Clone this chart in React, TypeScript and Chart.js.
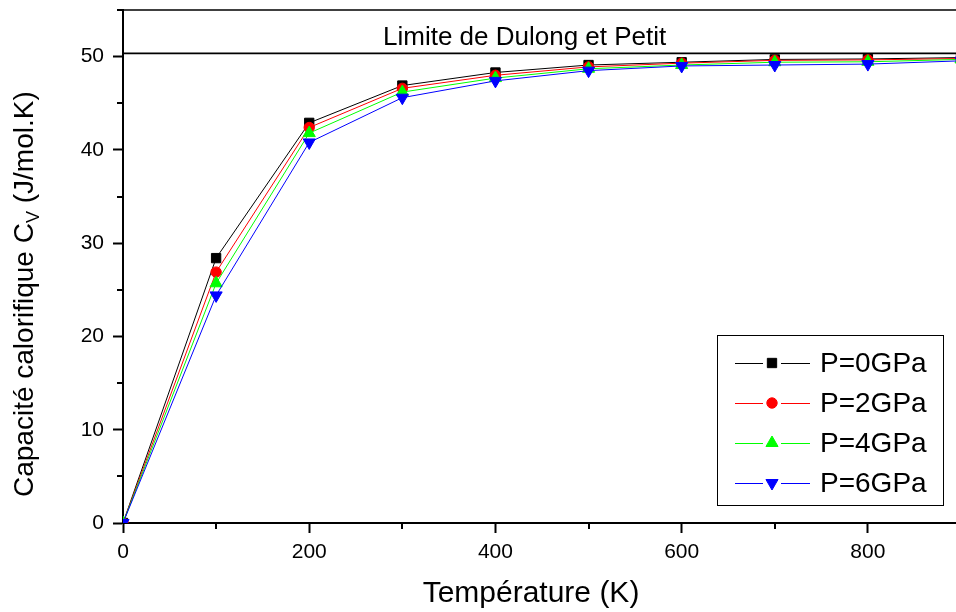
import React, { useEffect, useRef } from "react";
import { Chart, registerables } from "chart.js";
import { drawPoint } from "chart.js/helpers";

Chart.register(...registerables);

const temperatures = [0, 100, 200, 300, 400, 500, 600, 700, 800, 900];
const cvP0 = [0, 28.4, 42.9, 46.9, 48.3, 49.1, 49.4, 49.7, 49.75, 49.9];
const cvP2 = [0, 26.9, 42.4, 46.6, 48.0, 48.9, 49.3, 49.6, 49.65, 49.8];
const cvP4 = [0, 25.7, 41.8, 46.2, 47.7, 48.7, 49.1, 49.4, 49.45, 49.7];
const cvP6 = [0, 24.4, 40.8, 45.6, 47.4, 48.5, 49.0, 49.1, 49.2, 49.55];
const dulongPetit = 50.35;
const seriesLabels = ["P=0GPa", "P=2GPa", "P=4GPa", "P=6GPa"];
const seriesColors = ["#000000", "#ff0000", "#00ff00", "#0000ff"];
const xMajorTicks = [0, 200, 400, 600, 800];
const xMinorTicks = [100, 300, 500, 700, 900];
const yMajorTicks = [0, 10, 20, 30, 40, 50];
const yMinorTicks = [5, 15, 25, 35, 45, 55];

const FONT = "'Liberation Sans', Arial, sans-serif";

const pointDefs = [
  { style: "rect", radius: 6.6, rotation: 0 },
  { style: "circle", radius: 5.2, rotation: 0 },
  { style: "triangle", radius: 7, rotation: 0 },
  { style: "triangle", radius: 7, rotation: 180 },
];

const decorPlugin = {
  id: "decor",
  afterDraw(chart: any) {
    const ctx = chart.ctx;
    const ca = chart.chartArea;
    const xs = chart.scales.x;
    const ys = chart.scales.y;
    ctx.save();
    // top frame
    ctx.strokeStyle = "#000";
    ctx.lineWidth = 1.6;
    ctx.beginPath();
    ctx.moveTo(ca.left, ca.top);
    ctx.lineTo(ca.right, ca.top);
    ctx.stroke();
    // minor ticks
    ctx.lineWidth = 2;
    ctx.beginPath();
    xMinorTicks.forEach((v) => {
      const px = Math.round(xs.getPixelForValue(v));
      ctx.moveTo(px, ca.bottom);
      ctx.lineTo(px, ca.bottom + 6);
    });
    yMinorTicks.forEach((v) => {
      const py = Math.round(ys.getPixelForValue(v));
      ctx.moveTo(ca.left, py);
      ctx.lineTo(ca.left - 6, py);
    });
    ctx.stroke();

    // Dulong-Petit label
    ctx.fillStyle = "#000";
    ctx.font = `26px ${FONT}`;
    ctx.textAlign = "left";
    ctx.textBaseline = "alphabetic";
    ctx.fillText("Limite de Dulong et Petit", 383, 45);

    // x title
    ctx.font = `30px ${FONT}`;
    ctx.textAlign = "center";
    ctx.fillText("Température (K)", 531, 602);

    // y title (rotated, with subscript)
    ctx.save();
    ctx.translate(33, 497);
    ctx.rotate(-Math.PI / 2);
    ctx.textAlign = "left";
    ctx.font = `28px ${FONT}`;
    const p1 = "Capacité calorifique C";
    ctx.fillText(p1, 0, 0);
    let w = ctx.measureText(p1).width;
    ctx.font = `18px ${FONT}`;
    ctx.fillText("V", w, 6);
    w += ctx.measureText("V").width;
    ctx.font = `28px ${FONT}`;
    ctx.fillText(" (J/mol.K)", w, 0);
    ctx.restore();

    // legend
    const bx = 717, by = 335, bw = 226, bh = 170;
    ctx.lineWidth = 1;
    ctx.strokeStyle = "#000";
    ctx.strokeRect(bx + 0.5, by + 0.5, bw, bh);
    const rows = [363, 403, 443, 483];
    rows.forEach((ry, i) => {
      ctx.strokeStyle = seriesColors[i];
      ctx.lineWidth = 1;
      ctx.beginPath();
      ctx.moveTo(735, ry + 0.5);
      ctx.lineTo(763, ry + 0.5);
      ctx.moveTo(781, ry + 0.5);
      ctx.lineTo(810, ry + 0.5);
      ctx.stroke();
      ctx.fillStyle = seriesColors[i];
      drawPoint(
        ctx,
        {
          pointStyle: pointDefs[i].style,
          radius: pointDefs[i].radius,
          rotation: pointDefs[i].rotation,
          borderWidth: 1,
        } as any,
        772,
        ry
      );
      ctx.fillStyle = "#000";
      ctx.font = `28px ${FONT}`;
      ctx.textAlign = "left";
      ctx.textBaseline = "middle";
      ctx.fillText(seriesLabels[i], 820, ry + 1);
    });
    ctx.restore();
  },
};

export default function App() {
  const ref = useRef<HTMLCanvasElement | null>(null);
  useEffect(() => {
    if (!ref.current) return;
    const series = [cvP0, cvP2, cvP4, cvP6];
    const datasets: any[] = series.map((vals, i) => ({
      label: seriesLabels[i],
      data: temperatures.map((t, k) => ({ x: t, y: vals[k] })),
      borderColor: seriesColors[i],
      backgroundColor: seriesColors[i],
      borderWidth: 1,
      pointStyle: pointDefs[i].style,
      pointRadius: pointDefs[i].radius,
      pointRotation: pointDefs[i].rotation,
      pointBorderWidth: 1,
      pointBorderColor: seriesColors[i],
      pointBackgroundColor: seriesColors[i],
      order: 4 - i,
      tension: 0,
    }));
    datasets.push({
      label: "Dulong-Petit",
      data: [
        { x: temperatures[0], y: dulongPetit },
        { x: temperatures[temperatures.length - 1], y: dulongPetit },
      ],
      borderColor: "#000",
      borderWidth: 1.6,
      pointRadius: 0,
      order: 10,
    });
    const chart = new Chart(ref.current, {
      type: "line",
      data: { datasets },
      plugins: [decorPlugin],
      options: {
        responsive: false,
        animation: false,
        layout: { padding: { top: 10, right: 19, left: 0, bottom: 0 } },
        plugins: { legend: { display: false }, tooltip: { enabled: false } },
        scales: {
          x: {
            type: "linear",
            min: 0,
            max: 900,
            afterBuildTicks: (s: any) => {
              s.ticks = xMajorTicks.map((v) => ({ value: v }));
            },
            afterFit: (s: any) => {
              s.height = 89;
              s.paddingLeft = 0;
              s.paddingRight = 0;
            },
            ticks: {
              color: "#000",
              font: { family: FONT, size: 21 },
              padding: 7,
              maxRotation: 0,
            },
            grid: {
              drawOnChartArea: false,
              drawTicks: true,
              tickLength: 10,
              tickWidth: 2,
              tickColor: "#000",
            },
            border: { display: true, color: "#000", width: 2 },
          },
          y: {
            type: "linear",
            min: 0,
            max: 55,
            afterBuildTicks: (s: any) => {
              s.ticks = yMajorTicks.map((v) => ({ value: v }));
            },
            afterFit: (s: any) => {
              s.width = 123;
              s.paddingTop = 0;
              s.paddingBottom = 0;
            },
            ticks: {
              color: "#000",
              font: { family: FONT, size: 21 },
              padding: 9,
            },
            grid: {
              drawOnChartArea: false,
              drawTicks: true,
              tickLength: 10,
              tickWidth: 2,
              tickColor: "#000",
            },
            border: { display: true, color: "#000", width: 2 },
          },
        },
      },
    });
    return () => chart.destroy();
  }, []);
  return (
    <div
      style={{
        position: "fixed",
        left: 0,
        top: 0,
        width: 956,
        height: 612,
        overflow: "hidden",
        background: "#fff",
      }}
    >
      <canvas ref={ref} width={980} height={612} style={{ display: "block" }} />
    </div>
  );
}
